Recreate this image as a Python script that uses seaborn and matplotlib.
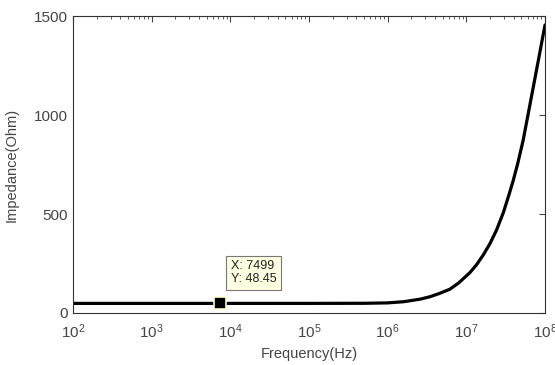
import numpy as np
import pandas as pd
import matplotlib
matplotlib.use('Agg')
import matplotlib.pyplot as plt
import seaborn as sns

# values
freq_hz = [1e2, 1e3, 1e4, 1e5, 5e5, 1e6, 1.6e6, 2.6e6, 3.44e6, 4.5e6, 6.17e6,
           8e6, 1.11e7, 1.35e7, 1.64e7, 2e7, 2.42e7, 2.94e7, 3.45e7, 3.93e7,
           4.5e7, 5.27e7, 6.1e7, 7.07e7, 8.4e7, 1e8]
impedance_ohm = [48.45, 48.45, 48.45, 48.5, 49, 51, 57, 70, 82, 98, 120,
                 152, 204, 244, 293, 351, 419, 505, 592, 667,
                 755, 872, 1004, 1138, 1295, 1455]
tip_x = 7499
tip_y = 48.45
y_ticks = [0, 500, 1000, 1500]

df = pd.DataFrame({'Frequency(Hz)': freq_hz, 'Impedance(Ohm)': impedance_ohm})

sns.set_style('white')
plt.rcParams['font.family'] = ['Liberation Sans', 'DejaVu Sans']

fig = plt.figure(figsize=(5.55, 3.65), dpi=100)
ax = fig.add_axes([0.1315, 0.1425, 0.8505, 0.8135])

sns.lineplot(data=df, x='Frequency(Hz)', y='Impedance(Ohm)', ax=ax,
             color='black', linewidth=2.3, sort=True)
ax.set_xscale('log')
ax.set_xlim(1e2, 1e8)
ax.set_ylim(0, 1500)
ax.set_yticks(y_ticks)

# data tip marker + label
ax.plot([tip_x], [tip_y], marker='s', markersize=8.5, color='black',
        markeredgecolor='#ffffd0', markeredgewidth=1.2, zorder=5)
ax.text(10100, 268, 'X: %d\nY: %.2f' % (tip_x, tip_y), fontsize=9,
        ha='left', va='top', linespacing=1.15, color='#222222',
        bbox=dict(boxstyle='square,pad=0.35', fc='#ffffe1', ec='#777777', lw=0.8))

ax.tick_params(axis='both', which='both', direction='in', top=True, right=True,
               labelsize=11, colors='#444444')
ax.tick_params(axis='x', which='major', pad=7)
ax.tick_params(which='major', length=4)
ax.tick_params(which='minor', length=2.5)
for s in ax.spines.values():
    s.set_color('#333333')
    s.set_linewidth(0.8)

ax.set_xlabel('Frequency(Hz)', fontsize=10.5, color='#444444', labelpad=4)
ax.set_ylabel('Impedance(Ohm)', fontsize=10.5, color='#444444', labelpad=11)

fig.savefig('out.png', dpi=100)
